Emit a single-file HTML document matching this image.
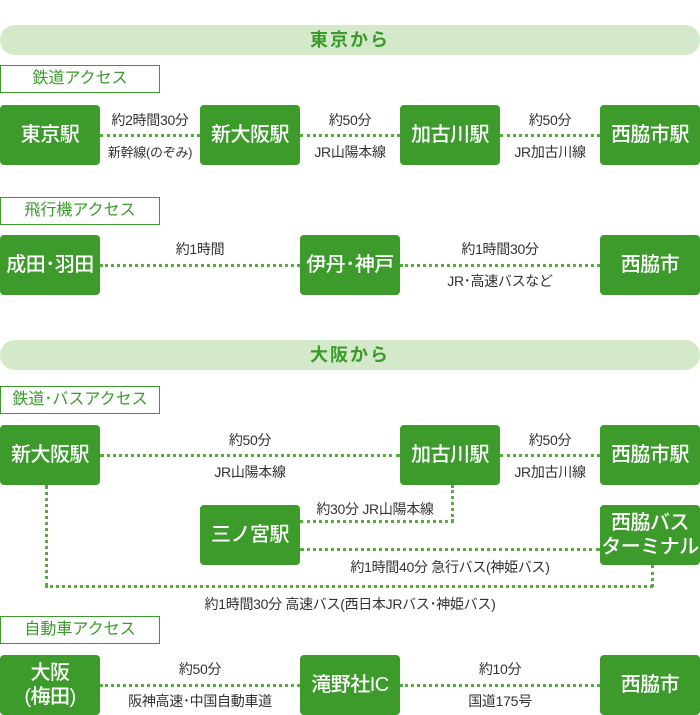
<!DOCTYPE html>
<html><head><meta charset="utf-8"><style>
body{margin:0;width:700px;height:715px;background:#fff;position:relative;overflow:hidden;font-family:"Liberation Sans","Noto Sans CJK JP",sans-serif}
.hd{position:absolute;left:0;width:700px;height:30px;background:#d4e9c9;border-radius:15px;color:#3a9a2a;font-size:18px;font-weight:bold;text-align:center;line-height:30px;letter-spacing:2px}
.lb{position:absolute;left:0;width:158px;height:26px;border:1px solid #3a9a2a;color:#3a9a2a;font-size:16px;line-height:26px;text-align:center;background:#fff}
.bx{position:absolute;width:100px;height:60px;background:#3d9b2c;border-radius:4px;color:#fff;font-size:20px;font-weight:500;display:flex;align-items:center;justify-content:center;text-align:center;line-height:24px;letter-spacing:-0.5px}
.h{position:absolute;border-top:3px dotted #5aab3f;height:0}
.v{position:absolute;border-left:3px dotted #5aab3f;width:0}
.t{position:absolute;font-size:14px;color:#333;white-space:nowrap;transform:translateX(-50%);letter-spacing:-0.3px}
</style></head><body>
<div class="hd" style="top:25px">東京から</div>
<div class="lb" style="top:65px">鉄道アクセス</div>
<div class="h" style="left:100px;width:100px;top:134px"></div>
<div class="h" style="left:300px;width:100px;top:134px"></div>
<div class="h" style="left:500px;width:100px;top:134px"></div>
<div class="bx" style="left:0;top:105px">東京駅</div>
<div class="bx" style="left:200px;top:105px">新大阪駅</div>
<div class="bx" style="left:400px;top:105px">加古川駅</div>
<div class="bx" style="left:600px;top:105px">西脇市駅</div>
<div class="t" style="left:150px;top:110px">約2時間30分</div>
<div class="t" style="left:150px;top:142px;font-size:13px">新幹線(のぞみ)</div>
<div class="t" style="left:350px;top:110px">約50分</div>
<div class="t" style="left:350px;top:142px">JR山陽本線</div>
<div class="t" style="left:550px;top:110px">約50分</div>
<div class="t" style="left:550px;top:142px">JR加古川線</div>

<div class="lb" style="top:197px">飛行機アクセス</div>
<div class="h" style="left:100px;width:200px;top:264px"></div>
<div class="h" style="left:400px;width:200px;top:264px"></div>
<div class="bx" style="left:0;top:235px">成田･羽田</div>
<div class="bx" style="left:300px;top:235px">伊丹･神戸</div>
<div class="bx" style="left:600px;top:235px">西脇市</div>
<div class="t" style="left:200px;top:239px">約1時間</div>
<div class="t" style="left:500px;top:239px">約1時間30分</div>
<div class="t" style="left:500px;top:271px">JR･高速バスなど</div>

<div class="hd" style="top:340px">大阪から</div>
<div class="lb" style="top:386px">鉄道･バスアクセス</div>
<div class="h" style="left:100px;width:300px;top:454px"></div>
<div class="h" style="left:500px;width:100px;top:454px"></div>
<div class="v" style="left:451px;top:485px;height:37px"></div>
<div class="h" style="left:300px;width:154px;top:520px"></div>
<div class="h" style="left:300px;width:300px;top:548px"></div>
<div class="v" style="left:45px;top:485px;height:102px"></div>
<div class="h" style="left:45px;width:608px;top:585px"></div>
<div class="v" style="left:651px;top:565px;height:22px"></div>
<div class="bx" style="left:0;top:425px">新大阪駅</div>
<div class="bx" style="left:400px;top:425px">加古川駅</div>
<div class="bx" style="left:600px;top:425px">西脇市駅</div>
<div class="bx" style="left:200px;top:505px">三ノ宮駅</div>
<div class="bx" style="left:600px;top:505px">西脇バス<br>ターミナル</div>
<div class="t" style="left:250px;top:430px">約50分</div>
<div class="t" style="left:250px;top:462px">JR山陽本線</div>
<div class="t" style="left:550px;top:430px">約50分</div>
<div class="t" style="left:550px;top:462px">JR加古川線</div>
<div class="t" style="left:375px;top:499px">約30分 JR山陽本線</div>
<div class="t" style="left:450px;top:557px">約1時間40分 急行バス(神姫バス)</div>
<div class="t" style="left:350px;top:594px">約1時間30分 高速バス(西日本JRバス･神姫バス)</div>

<div class="lb" style="top:616px">自動車アクセス</div>
<div class="h" style="left:100px;width:200px;top:684px"></div>
<div class="h" style="left:400px;width:200px;top:684px"></div>
<div class="bx" style="left:0;top:655px">大阪<br>(梅田)</div>
<div class="bx" style="left:300px;top:655px">滝野社IC</div>
<div class="bx" style="left:600px;top:655px">西脇市</div>
<div class="t" style="left:200px;top:659px">約50分</div>
<div class="t" style="left:200px;top:691px">阪神高速･中国自動車道</div>
<div class="t" style="left:500px;top:659px">約10分</div>
<div class="t" style="left:500px;top:691px">国道175号</div>
</body></html>
